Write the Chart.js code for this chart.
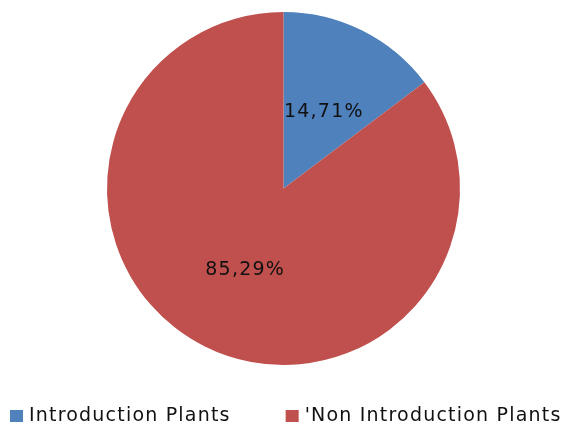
<!DOCTYPE html>
<html>
<head>
<meta charset="utf-8">
<script src="https://cdn.jsdelivr.net/npm/chart.js@4"></script>
<style>
  html, body { margin: 0; padding: 0; background: #fff; }
  #wrap { width: 565px; height: 427px; }
</style>
</head>
<body>
<div id="wrap"><canvas id="plantChart" width="565" height="427"></canvas></div>
<script>
// Data
const categories = ['Introduction Plants', "'Non Introduction Plants"];
const shares = [14.71, 85.29];
const sliceColors = ['#4f81bd', '#c0504d'];

const textFont = '19px "DejaVu Sans", sans-serif';
const textSpacing = '1.2px';
const textColor = '#111';

// Percent labels in the middle of each slice, decimal comma
const sliceLabels = {
    id: 'sliceLabels',
    afterDatasetsDraw(chart) {
        const ctx = chart.ctx;
        const meta = chart.getDatasetMeta(0);
        ctx.save();
        ctx.font = textFont;
        ctx.letterSpacing = textSpacing;
        ctx.fillStyle = textColor;
        ctx.textAlign = 'center';
        ctx.textBaseline = 'middle';
        meta.data.forEach((arc, i) => {
            const pos = arc.tooltipPosition();
            const text = shares[i].toFixed(2).replace('.', ',') + '%';
            ctx.fillText(text, pos.x + 1, pos.y + 3);
        });
        ctx.restore();
    }
};

// Legend row under the pie
const bottomLegend = {
    id: 'bottomLegend',
    afterDraw(chart) {
        const ctx = chart.ctx;
        const boxSize = 13;
        const boxGap = 6;
        const itemGap = 55;
        const midY = 416;
        let x = 10;
        ctx.save();
        ctx.font = textFont;
        ctx.letterSpacing = textSpacing;
        ctx.textAlign = 'left';
        ctx.textBaseline = 'middle';
        categories.forEach((label, i) => {
            ctx.fillStyle = sliceColors[i];
            ctx.fillRect(x, midY - 6, boxSize, boxSize - 1);
            x += boxSize + boxGap;
            ctx.fillStyle = textColor;
            ctx.fillText(label, x, midY);
            x += ctx.measureText(label).width + itemGap;
        });
        ctx.restore();
    }
};

const ctx = document.getElementById('plantChart').getContext('2d');
const plantChart = new Chart(ctx, {
    type: 'pie',
    data: {
        labels: categories,
        datasets: [{
            data: shares,
            backgroundColor: sliceColors,
            borderWidth: 0
        }]
    },
    options: {
        responsive: false,
        animation: false,
        layout: {
            padding: { top: 12, bottom: 62, left: 2, right: 0 }
        },
        plugins: {
            legend: { display: false },
            tooltip: { enabled: false }
        }
    },
    plugins: [sliceLabels, bottomLegend]
});
</script>
</body>
</html>
